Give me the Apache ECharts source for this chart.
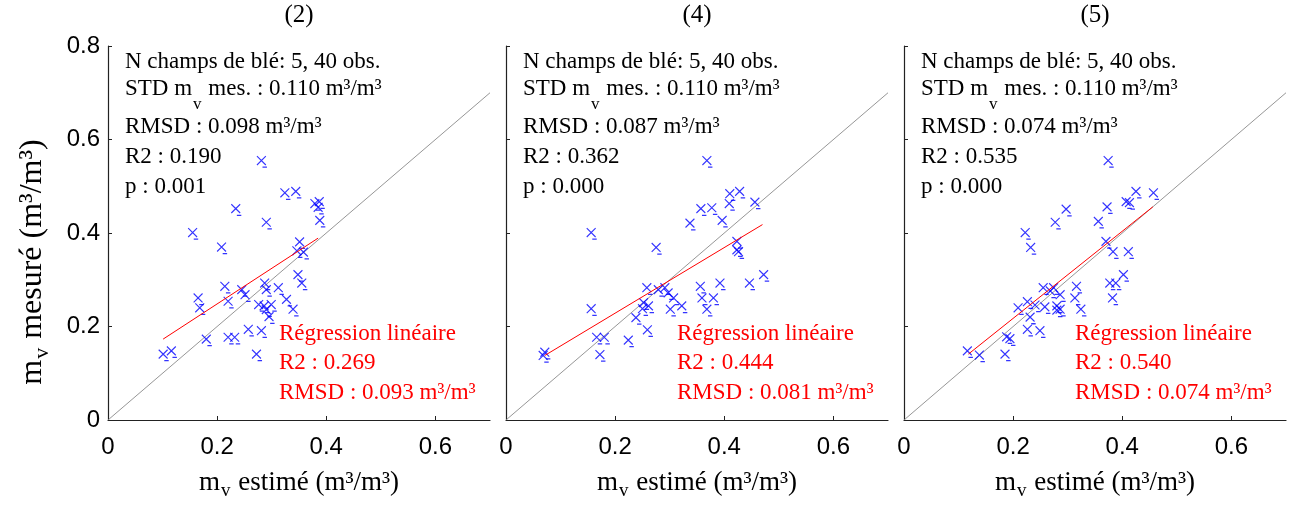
<!DOCTYPE html>
<html>
<head>
<meta charset="utf-8">
<script src="https://cdn.jsdelivr.net/npm/echarts@6/dist/echarts.min.js"></script>
<style>
  html, body { margin: 0; padding: 0; background: #fff; }
  #chart { width: 1291px; height: 506px; }
</style>
</head>
<body>
<div id="chart"></div>
<script>
// Panel titles (model variants)
const panelTitles = ['(2)', '(4)', '(5)'];

// Panel (2): estimated vs measured soil moisture (m3/m3)
const estimated2 = [0.281, 0.324, 0.344, 0.379, 0.387, 0.385, 0.388, 0.234, 0.290, 0.155, 0.208,
  0.351, 0.346, 0.358, 0.348, 0.355, 0.214, 0.245, 0.251, 0.220, 0.165, 0.168,
  0.287, 0.290, 0.312, 0.327, 0.339, 0.276, 0.286, 0.299, 0.290, 0.295,
  0.180, 0.220, 0.232, 0.257, 0.281, 0.272, 0.101, 0.116];
const measured2 = [0.555, 0.486, 0.489, 0.463, 0.467, 0.455, 0.427, 0.452, 0.423, 0.401, 0.370,
  0.381, 0.362, 0.359, 0.311, 0.293, 0.286, 0.279, 0.268, 0.254, 0.261, 0.240,
  0.293, 0.279, 0.283, 0.258, 0.237, 0.247, 0.244, 0.247, 0.236, 0.221,
  0.173, 0.177, 0.177, 0.194, 0.191, 0.141, 0.141, 0.148];

// Panel (4)
const estimated4 = [0.368, 0.156, 0.275, 0.337, 0.357, 0.377, 0.396, 0.410, 0.428, 0.409, 0.456,
  0.423, 0.423, 0.426, 0.156, 0.071, 0.068, 0.166, 0.180, 0.172, 0.224, 0.238, 0.259,
  0.252, 0.261, 0.250, 0.258, 0.279, 0.291, 0.297, 0.307, 0.301, 0.322,
  0.356, 0.359, 0.380, 0.392, 0.368, 0.446, 0.472];
const measured4 = [0.555, 0.401, 0.369, 0.421, 0.452, 0.454, 0.427, 0.484, 0.489, 0.463, 0.466,
  0.382, 0.364, 0.360, 0.238, 0.145, 0.138, 0.177, 0.177, 0.140, 0.171, 0.219, 0.193,
  0.251, 0.244, 0.238, 0.283, 0.279, 0.283, 0.272, 0.261, 0.237, 0.244,
  0.286, 0.261, 0.261, 0.293, 0.237, 0.293, 0.311];

// Panel (5)
const estimated5 = [0.374, 0.425, 0.457, 0.407, 0.413, 0.222, 0.232, 0.277, 0.297, 0.356, 0.372,
  0.370, 0.383, 0.411, 0.402, 0.377, 0.388, 0.382, 0.316, 0.313, 0.324,
  0.255, 0.274, 0.268, 0.286, 0.209, 0.226, 0.240, 0.258, 0.280, 0.280, 0.286,
  0.231, 0.226, 0.249, 0.188, 0.194, 0.116, 0.138, 0.185];
const measured5 = [0.555, 0.489, 0.486, 0.467, 0.465, 0.401, 0.369, 0.423, 0.451, 0.425, 0.456,
  0.382, 0.360, 0.360, 0.311, 0.293, 0.293, 0.261, 0.286, 0.261, 0.237,
  0.283, 0.283, 0.276, 0.268, 0.240, 0.253, 0.246, 0.242, 0.244, 0.235, 0.237,
  0.220, 0.194, 0.191, 0.178, 0.174, 0.148, 0.139, 0.141];

// Linear regression segments (x and y at both ends)
const regX = [[0.101, 0.385], [0.071, 0.470], [0.118, 0.456]];
const regY = [[0.173, 0.389], [0.138, 0.418], [0.141, 0.456]];

// 1:1 reference line
const oneToOne = [0, 0.7];

// Statistics printed in each panel
const nFields = '5, 40 obs.';
const stdMeasured = ['0.110', '0.110', '0.110'];
const rmsdModel = ['0.098', '0.087', '0.074'];
const r2Model = ['0.190', '0.362', '0.535'];
const pModel = ['0.001', '0.000', '0.000'];
const r2Reg = ['0.269', '0.444', '0.540'];
const rmsdReg = ['0.093', '0.081', '0.074'];

const estimated = [estimated2, estimated4, estimated5];
const measured = [measured2, measured4, measured5];

const chart = echarts.init(document.getElementById('chart'), null, { renderer: 'canvas' });

const SERIF = '"Liberation Serif", "Times New Roman", serif';
const SANS = '"Liberation Sans", Arial, sans-serif';
const gridLeft = [108, 506, 904];
const gridTop = 46;
const gridW = 382;
const gridH = 377.5;
const TXT = 23;

const crossSymbol = 'path://M0,0L8,8M8,0L0,8M5,10L9,10';

const grids = [], xAxes = [], yAxes = [], series = [], graphics = [];

const baseRich = {
  n: { fontFamily: SERIF, fontSize: TXT, color: '#000', verticalAlign: 'top' },
  v: { fontFamily: SERIF, fontSize: 17, color: '#000', verticalAlign: 'top', padding: [19, 1, 0, 1] }
};

function textLine(x, y, text, color, rich) {
  return {
    type: 'text', x: x, y: y, z: 10,
    style: { text: text, fill: color, font: TXT + 'px ' + SERIF, verticalAlign: 'top', rich: rich }
  };
}

for (let i = 0; i < 3; i++) {
  grids.push({ left: gridLeft[i], top: gridTop, width: gridW, height: gridH, containLabel: false });
  xAxes.push({
    type: 'value', gridIndex: i, min: 0, max: 0.7, interval: 0.2,
    axisLine: { onZero: false, lineStyle: { color: '#222', width: 1.2 } },
    axisTick: { inside: true, length: 4, lineStyle: { color: '#222' } },
    axisLabel: { fontFamily: SANS, fontSize: 24, color: '#000', margin: 15, showMaxLabel: false },
    splitLine: { show: false },
    name: '{n|m}{v|v}{n| estimé (m³/m³)}',
    nameLocation: 'middle', nameGap: 49,
    nameTextStyle: {
      rich: {
        n: { fontFamily: SERIF, fontSize: 27, color: '#000', verticalAlign: 'top' },
        v: { fontFamily: SERIF, fontSize: 19, color: '#000', verticalAlign: 'top', padding: [13, 1, 0, 1] }
      }
    }
  });
  yAxes.push({
    type: 'value', gridIndex: i, min: 0, max: 0.8, interval: 0.2,
    axisLine: { onZero: false, lineStyle: { color: '#222', width: 1.2 } },
    axisTick: { inside: true, length: 4, lineStyle: { color: '#222' } },
    axisLabel: { show: i === 0, fontFamily: SANS, fontSize: 24, color: '#000', margin: 8 },
    splitLine: { show: false }
  });

  // 1:1 line
  series.push({
    type: 'line', xAxisIndex: i, yAxisIndex: i, symbol: 'none', silent: true, z: 1,
    data: oneToOne.map(v => [v, v]),
    lineStyle: { color: '#8a8a8a', width: 0.9 }
  });
  // observations
  series.push({
    type: 'scatter', xAxisIndex: i, yAxisIndex: i, z: 3,
    symbol: crossSymbol, symbolSize: [10, 11], symbolOffset: [0.6, 1.1],
    itemStyle: { color: 'rgba(0,0,0,0)', borderColor: '#0000ff', borderWidth: 1.2 },
    data: estimated[i].map((v, k) => [v, measured[i][k]])
  });
  // linear regression
  series.push({
    type: 'line', xAxisIndex: i, yAxisIndex: i, symbol: 'none', silent: true, z: 4,
    data: regX[i].map((v, k) => [v, regY[i][k]]),
    lineStyle: { color: '#ff0000', width: 1 }
  });

  const gx = gridLeft[i];
  graphics.push({
    type: 'text', x: gx + gridW / 2, y: 3, z: 10,
    style: { text: panelTitles[i], fill: '#000', font: '25px ' + SERIF, align: 'center', verticalAlign: 'top' }
  });
  const tx = gx + 17;
  graphics.push(textLine(tx, 50, 'N champs de blé: ' + nFields, '#000'));
  graphics.push(textLine(tx, 77, '{n|STD m}{v|v}{n| mes. : ' + stdMeasured[i] + ' m³/m³}', '#000', baseRich));
  graphics.push(textLine(tx, 115, 'RMSD : ' + rmsdModel[i] + ' m³/m³', '#000'));
  graphics.push(textLine(tx, 145, 'R2 : ' + r2Model[i], '#000'));
  graphics.push(textLine(tx, 175, 'p : ' + pModel[i], '#000'));
  const rx = gx + 171;
  graphics.push(textLine(rx, 322, 'Régression linéaire', '#ff0000'));
  graphics.push(textLine(rx, 351, 'R2 : ' + r2Reg[i], '#ff0000'));
  graphics.push(textLine(rx, 381, 'RMSD : ' + rmsdReg[i] + ' m³/m³', '#ff0000'));
}

// Vertical axis title of the first panel
graphics.push({
  type: 'text', x: 35, y: 262, rotation: Math.PI / 2, z: 10,
  style: {
    text: '{n|m}{v|v}{n| mesuré (m³/m³)}',
    align: 'center', verticalAlign: 'middle',
    rich: {
      n: { fontFamily: SERIF, fontSize: 32, fill: '#000', verticalAlign: 'top' },
      v: { fontFamily: SERIF, fontSize: 22, fill: '#000', verticalAlign: 'top', padding: [15, 1, 0, 1] }
    }
  }
});

chart.setOption({
  animation: false,
  backgroundColor: '#fff',
  grid: grids,
  xAxis: xAxes,
  yAxis: yAxes,
  series: series,
  graphic: graphics
});
</script>
</body>
</html>
